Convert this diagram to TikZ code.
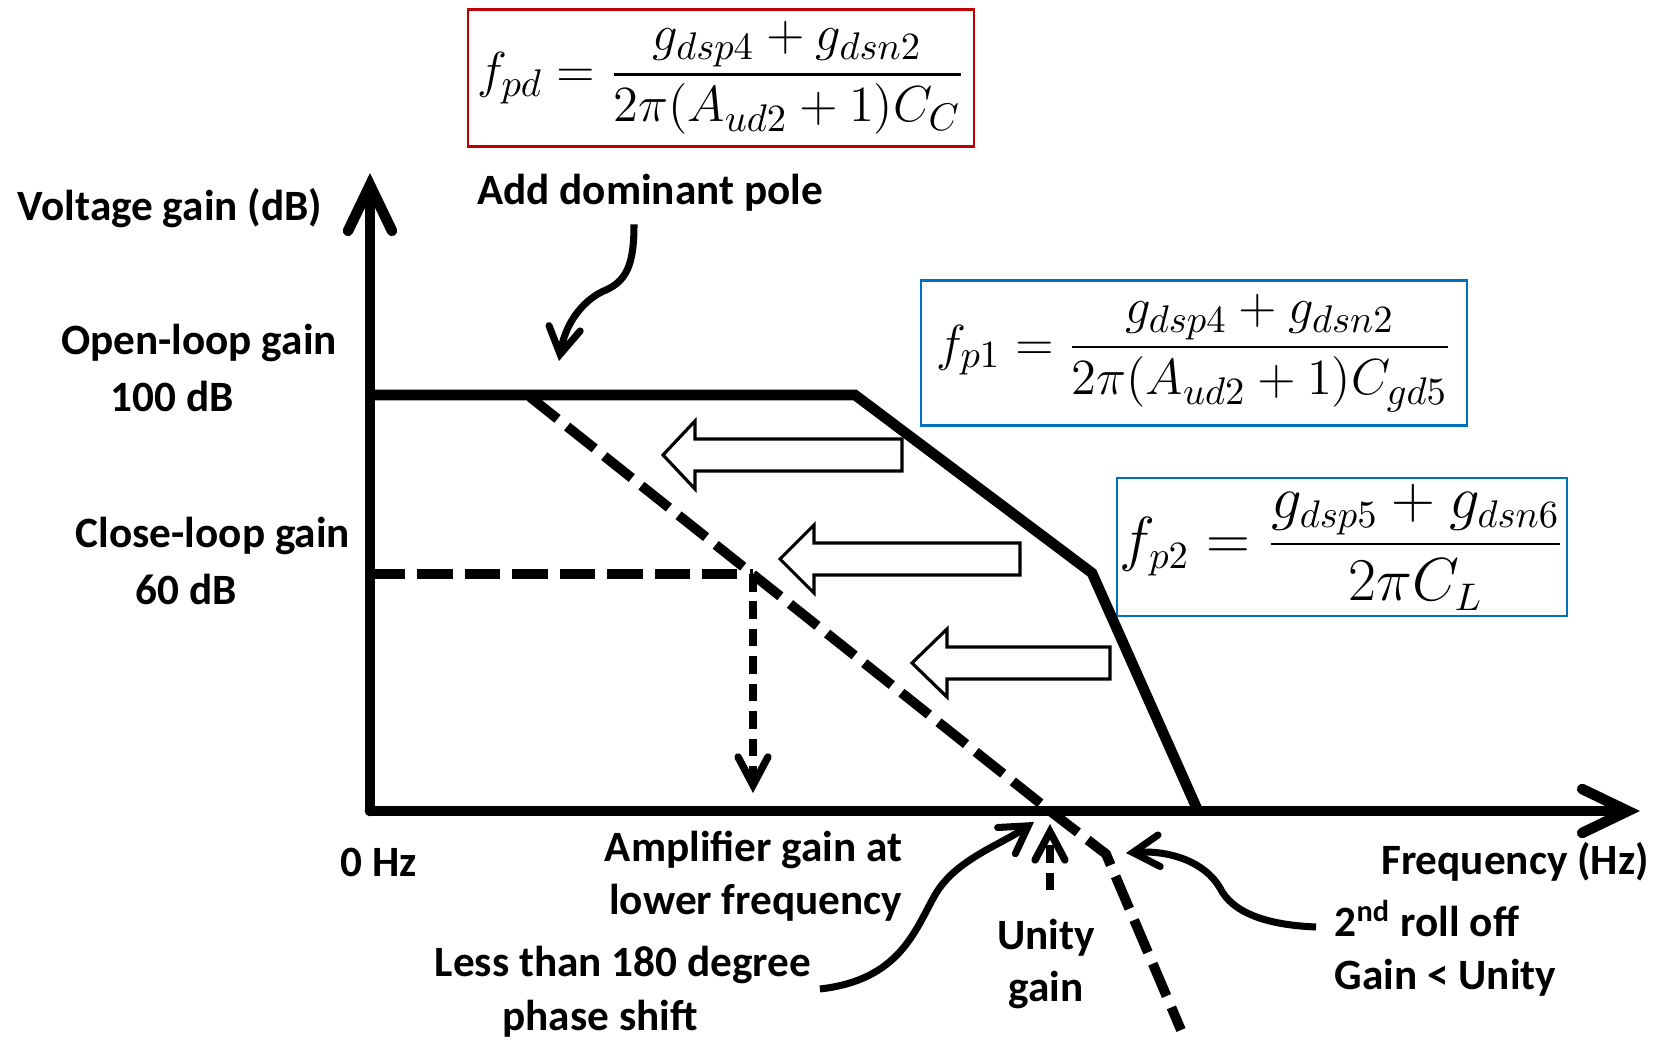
\documentclass[tikz,border=0pt]{standalone}
\usepackage{amsmath}
\usepackage{fontspec}
\setmainfont{Carlito}
\usepackage{tikz}
\usetikzlibrary{arrows.meta, positioning, calc}
\definecolor{boxred}{HTML}{C00000}
\definecolor{boxblue}{HTML}{0070C0}
\tikzset{
  lbl/.style={font=\bfseries\fontsize{12.3}{15}\selectfont, inner sep=0pt},
  axisline/.style={line width=3pt, line cap=round, -{Straight Barb[length=13pt,width=12.5pt,line cap=round]}},
  gainline/.style={line width=3pt},
  dashline/.style={line width=2.8pt, dash pattern=on 10pt off 3.5pt},
  curvearrow/.style={line width=2pt, -{Straight Barb[length=7.5pt,width=9pt,line cap=round]}},
  dasharrow/.style={line width=2.1pt, dash pattern=on 5pt off 2.8pt, -{Straight Barb[length=8pt,width=8.5pt,line cap=round]}},
  blockarrow/.style={draw, line width=0.9pt, fill=white},
  formbox/.style={draw, line width=0.6pt, inner sep=0pt},
}

\begin{document}
\begin{tikzpicture}[x=0.01cm, y=-0.01cm]
  \useasboundingbox (0,0) rectangle (1663,1040);

  % formula boxes
  \node[formbox, draw=boxred, minimum width=5.06cm, minimum height=1.37cm, font=\fontsize{15.5}{18}\selectfont] (fpd) at (721,78)
    {$\displaystyle f_{pd}=\frac{g_{dsp4}+g_{dsn2}}{2\pi(A_{ud2}+1)C_C}$};
  \node[formbox, draw=boxblue, minimum width=5.45cm, minimum height=1.45cm, font=\fontsize{15.2}{18}\selectfont] (fp1) at (1194,353)
    {$\displaystyle f_{p1}=\frac{g_{dsp4}+g_{dsn2}}{2\pi(A_{ud2}+1)C_{gd5}}$};
  \node[formbox, draw=boxblue, minimum width=4.49cm, minimum height=1.38cm, font=\fontsize{16}{19}\selectfont] (fp2) at (1342,547)
    {$\displaystyle f_{p2}=\frac{g_{dsp5}+g_{dsn6}}{2\pi C_L}$};

  % axes and gain curve
  \coordinate (origin) at (370,811);
  \coordinate (ytop) at (370,173);
  \coordinate (xend) at (1640,811);
  \coordinate (olstart) at (370,395);
  \coordinate (pole1) at (855,395);
  \coordinate (pole2) at (1092,573);
  \coordinate (olend) at (1198,811);
  \coordinate (dpstart) at (530,397);
  \coordinate (unitypt) at (1050,811);
  \coordinate (dpbend) at (1106,854);
  \coordinate (dpend) at (1181,1030);
  \coordinate (clstart) at (370,574);
  \coordinate (clpt) at (753,574);
  \coordinate (cltip) at (753,793);

  \draw[gainline] (olstart) -- (pole1) -- (pole2) -- (olend);
  \draw[dashline] (dpstart) -- (unitypt) -- (dpbend) -- (dpend);
  \draw[dashline] (clstart) -- (clpt);
  \draw[dasharrow] (clpt) -- (cltip);
  \draw[axisline] (origin) -- (ytop);
  \draw[axisline] (origin) -- (xend);

  % shifting arrows
  \draw[blockarrow] (663,455) -- (695,421) -- (695,439) -- (902,439) -- (902,471) -- (695,471) -- (695,489) -- cycle;
  \draw[blockarrow] (780,559) -- (814,525) -- (814,543) -- (1020,543) -- (1020,575) -- (814,575) -- (814,593) -- cycle;
  \draw[blockarrow] (912,663) -- (947,629) -- (947,647) -- (1110,647) -- (1110,679) -- (947,679) -- (947,697) -- cycle;

  % labels
  \node[lbl] (vgain) at (170,208) {Voltage gain (dB)};
  \node[lbl] (dompole) at (650,193) {Add dominant pole};
  \node[lbl] (olgain) at (199,343) {Open-loop gain};
  \node[lbl] (olval) at (172,396) {100 dB};
  \node[lbl] (clgain) at (213,536) {Close-loop gain};
  \node[lbl] (clval) at (186,589) {60 dB};
  \node[lbl] (zerohz) at (379,862) {0 Hz};
  \node[lbl, align=right, anchor=east] (ampgain) at (903,876) {Amplifier gain at\\lower frequency};
  \node[lbl] (phase) at (623,965) {Less than 180 degree};
  \node[lbl] (phaseb) at (600,1019) {phase shift};
  \node[lbl, align=center] (unity) at (1046,964) {Unity\\gain};
  \node[lbl] (freq) at (1515,862) {Frequency (Hz)};
  \node[lbl, align=left, anchor=west] (rolloff) at (1334,948) {2\textsuperscript{nd} roll off\\Gain < Unity};

  % pointers
  \coordinate (domtip) at (559,361);
  \coordinate (phasetip) at (1034,822);
  \coordinate (rolltip) at (1126,853);
  \coordinate (unitytip) at (1050,824);
  \draw[curvearrow] ($(dompole.south)+(-16,12)$) .. controls (634,262) and (628,280) .. (606,290)
    .. controls (586,298) and (566,320) .. (domtip);
  \draw[curvearrow] ($(phase.east)+(8,24)$) .. controls (900,980) and (915,930) .. (935,895)
    .. controls (955,860) and (1000,845) .. (phasetip);
  \draw[curvearrow] ($(rolloff.west)+(-18,-21)$) .. controls (1265,925) and (1232,912) .. (1220,888)
    .. controls (1205,862) and (1170,850) .. (rolltip);
  \draw[dasharrow] ($(unity.north)+(4,-28)$) -- (unitytip);
\end{tikzpicture}
\end{document}
